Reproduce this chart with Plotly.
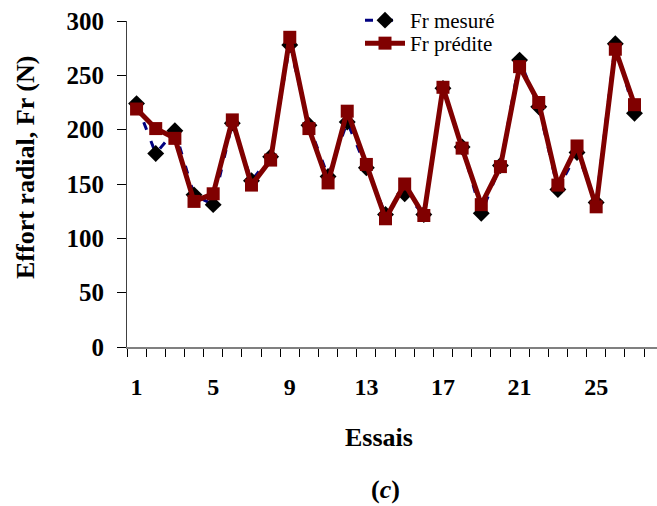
import plotly.graph_objects as go

essais = list(range(1, 28))
fr_mesure = [224, 178, 199, 140, 131, 206, 153, 175, 278, 204, 157, 207, 165, 122,
             141, 122, 238, 184, 123, 167, 264, 221, 145, 179, 133, 279, 215]
fr_predite = [219, 201, 192, 134, 141, 209, 149, 172, 285, 201, 151, 217, 168, 118,
              150, 121, 239, 183, 131, 166, 258, 225, 149, 185, 129, 274, 223]
x_tick_vals = [1, 5, 9, 13, 17, 21, 25]
y_tick_vals = [0, 50, 100, 150, 200, 250, 300]

FONT = "Liberation Serif"
W, H = 657, 506
L, R, T, B = 127, 0, 21, 159
PW = W - L - R
PH = H - T - B

fig = go.Figure()
fig.add_trace(go.Scatter(
    x=essais, y=fr_mesure, name="Fr mesuré", mode="lines+markers",
    line=dict(color="#000080", width=3, dash="8px,12px"),
    marker=dict(symbol="diamond", size=13, color="#000000"),
    legend="legend",
))
fig.add_trace(go.Scatter(
    x=essais, y=fr_predite, name="Fr prédite", mode="lines+markers",
    line=dict(color="#800000", width=5),
    marker=dict(symbol="square", size=13, color="#800000"),
    legend="legend2",
))

def px_x(p):
    return (p - L) / PW

def px_y(p):
    return (H - B - p) / PH

def leg(top):
    return dict(
        xref="container", yref="container",
        x=360 / W, y=1 - top / H, xanchor="left", yanchor="top",
        bgcolor="rgba(0,0,0,0)", borderwidth=0,
        font=dict(family=FONT, size=21, color="black"),
        itemwidth=40, tracegroupgap=0,
    )

fig.update_layout(
    width=W, height=H,
    margin=dict(l=L, r=R, t=T, b=B, pad=0, autoexpand=False),
    plot_bgcolor="white", paper_bgcolor="white",
    font=dict(family=FONT, color="black"),
    showlegend=True,
    legend=leg(0),
    legend2=leg(23),
    xaxis=dict(
        range=[0.5, 0.5 + PW / 19.15],
        tickmode="array", tickvals=x_tick_vals,
        ticktext=[str(v) for v in x_tick_vals],
        ticks="", ticklabelstandoff=17,
        tickfont=dict(family=FONT, size=24, color="black", weight="bold"),
        showline=True, linecolor="#808080", linewidth=2,
        showgrid=False, zeroline=False,
        minor=dict(tickvals=[i + 0.5 for i in range(0, 28)], ticks="outside",
                   ticklen=8, tickwidth=1, tickcolor="#000000", showgrid=False),
    ),
    yaxis=dict(
        range=[0, 300], tickmode="array", tickvals=y_tick_vals,
        ticks="outside", ticklen=9, tickwidth=1, tickcolor="#000000",
        tickfont=dict(family=FONT, size=25, color="black", weight="bold"),
        ticklabelstandoff=8,
        showline=True, linecolor="#404040", linewidth=1,
        showgrid=False, zeroline=False,
    ),
    annotations=[
        dict(text="<b>Effort radial, Fr (N)</b>", xref="paper", yref="paper",
             x=px_x(26), y=px_y(168), textangle=-90, showarrow=False,
             xanchor="center", yanchor="middle",
             font=dict(family=FONT, size=26, color="black")),
        dict(text="<b>Essais</b>", xref="paper", yref="paper",
             x=px_x(379), y=px_y(437), showarrow=False,
             xanchor="center", yanchor="middle",
             font=dict(family=FONT, size=26, color="black")),
        dict(text="<b>(<i>c</i>)</b>", xref="paper", yref="paper",
             x=px_x(385), y=px_y(489), showarrow=False,
             xanchor="center", yanchor="middle",
             font=dict(family=FONT, size=26, color="black")),
    ],
)

fig.write_html("out.html", config={"displayModeBar": False},
               post_script="document.body.style.margin='0';document.body.style.padding='0';")
